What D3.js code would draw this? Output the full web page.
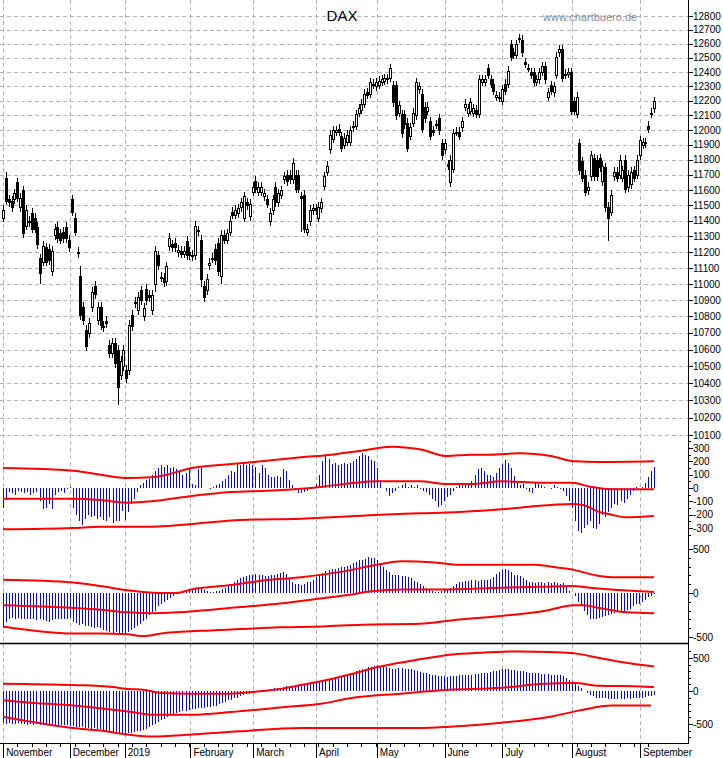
<!DOCTYPE html>
<html><head><meta charset="utf-8">
<script src="https://cdn.jsdelivr.net/npm/d3@7"></script>
<style>body{margin:0;background:#fff}svg{display:block;font-family:"Liberation Sans",Arial,sans-serif}</style>
</head><body><svg id="c" width="723" height="758"></svg>
<script>
const opens = [11420,11680,11540,11530,11540,11650,11490,11600,11370,11400,11450,11420,11360,11160,11140,11230,11220,11080,11310,11360,11320,11330,11360,11280,11540,11420,11200,11050,10860,10720,10700,10860,10990,10780,10860,10740,10770,10630,10580,10640,10600,10450,10500,10480,10480,10810,10890,10840,10960,10800,10970,10930,10840,11000,11180,11040,11040,11020,11240,11250,
11260,11200,11210,11190,11270,11200,11175,11180,11340,11280,10990,10960,11120,11160,11220,11260,11050,11310,11280,11330,11460,11440,11450,11490,11420,11520,11430,11590,11660,11590,11590,11560,11540,11400,11470,11620,11520,11570,11670,11700,11700,11670,11700,11700,11560,11570,11330,11400,11470,11480,11420,11480,11630,11720,11870,11940,11990,12010,11960,11900,11920,11920,
12020,12030,12120,12140,12180,12260,12250,12320,12300,12310,12330,12340,12350,12360,12310,12310,12120,12110,12110,12050,11960,12050,12100,12280,12250,12160,12130,12060,12000,12040,12080,11910,11870,11770,11650,11740,11990,11990,12020,12160,12120,12130,12120,12140,12110,12330,12330,12430,12350,12320,12230,12220,12200,12320,12320,
12600,12540,12520,12640,12630,12470,12430,12400,12400,12330,12350,12400,12440,12230,12310,12260,12380,12540,12560,12380,12390,12400,12200,12110,11910,11790,11700,11600,11690,11810,11800,11810,11660,11750,11490,11460,11690,11720,11700,11680,11800,11620,11640,11730,11700,11830,11900,11920,12030,12120,12150];
const closes = [11470,11530,11520,11490,11580,11550,11550,11320,11470,11390,11350,11350,11250,11070,11240,11140,11150,11210,11350,11290,11280,11290,11290,11230,11460,11330,11195,10810,10780,10620,10760,10950,10940,10860,10750,10735,10760,10580,10640,10520,10380,10530,10600,10430,10750,10740,10885,10920,10900,10850,10900,10920,10930,11210,11120,11045,11010,11110,11290,11230,
11230,11215,11190,11210,11180,11180,11185,11370,11335,11030,10920,11030,11130,11165,11150,11080,11310,11280,11320,11400,11440,11470,11480,11520,11560,11500,11510,11620,11610,11620,11620,11580,11510,11450,11540,11520,11580,11600,11690,11660,11670,11780,11610,11610,11550,11350,11350,11470,11480,11470,11490,11520,11690,11760,11970,12000,12000,11990,11880,11950,11970,12000,
12030,12110,12150,12180,12250,12240,12330,12310,12330,12340,12350,12360,12360,12430,12190,12100,12170,11980,12040,11880,12020,12120,12330,12300,12010,12080,12160,11960,11990,12040,12000,11830,11910,11760,11800,11980,11990,11960,12060,12180,12150,12190,12150,12110,12350,12350,12350,12380,12320,12270,12240,12230,12280,12270,12410,
12510,12520,12600,12635,12540,12460,12430,12380,12330,12350,12400,12440,12350,12260,12270,12300,12510,12560,12360,12390,12400,12130,12130,12230,11730,11680,11590,11620,11830,11690,11690,11750,11760,11490,11420,11570,11720,11680,11800,11730,11610,11700,11720,11680,11800,11930,11920,11910,12010,12110,12200];
const wickPad = 30;
const wickOverrides = {1:[11720,null],7:[null,11290],13:[null,11000],27:[11110,null],40:[null,10270],53:[null,10950],69:[null,10980],76:[null,11000],104:[null,11330],211:[null,11270]};

const months = ["November","December","2019","February","March","April","May","June","July","August","September"];
const monthPos = [0.4,23.6,42.8,65.7,87.6,109.5,130.7,154.3,174.5,198.8,222.5];
const priceTicks = d3.range(10100,12801,100);

const osc1 = [-150,-90,-30,-40,-50,-20,-30,-40,-30,-50,-40,-30,-100,-160,-150,-120,-160,-50,-30,-20,-40,-10,10,-150,-200,-250,-280,-230,-200,-220,-210,-230,-220,-240,-250,-220,-260,-250,-250,-170,-240,-180,-120,-80,-30,20,40,60,70,100,130,150,170,160,170,150,160,140,120,100,110,150,30,20,140,150,0,0,-10,10,20,30,50,70,100,130,120,180,170,180,170,180,170,160,110,170,150,100,80,80,90,80,140,130,60,20,-10,-40,-40,-30,-20,0,10,30,100,200,240,220,180,190,170,180,190,180,190,200,220,240,260,250,240,210,200,150,60,0,-20,-60,-40,-20,10,20,40,10,20,10,20,-10,-20,-30,-50,-80,-100,-140,-130,-100,-70,-50,-20,10,20,40,40,30,50,100,140,150,130,100,100,80,110,150,180,210,190,150,90,40,20,30,-10,-30,-40,40,30,20,10,0,-10,20,10,-10,-20,-60,-100,-150,-250,-320,-340,-300,-280,-250,-300,-310,-270,-200,-220,-180,-150,-120,-130,-100,-110,-80,-50,-20,10,0,10,40,80,130,160];
const osc2 = [-400,-330,-300,-280,-290,-280,-300,-300,-290,-300,-300,-310,-300,-310,-320,-330,-310,-300,-300,-290,-300,-290,-280,-330,-340,-360,-350,-370,-380,-390,-400,-390,-400,-420,-430,-440,-450,-440,-460,-450,-460,-440,-420,-400,-370,-350,-320,-300,-250,-220,-200,-150,-120,-100,-80,-60,-30,-10,0,10,20,20,30,50,70,50,30,20,10,10,20,20,40,60,80,100,130,150,170,180,190,200,200,220,210,200,190,190,200,210,220,230,240,220,160,120,100,100,90,100,120,130,150,180,200,230,250,260,270,270,280,290,300,310,320,340,350,370,380,390,410,400,400,370,340,300,260,240,210,200,200,190,190,180,170,140,120,100,80,60,30,20,10,10,20,30,40,60,80,100,120,130,140,140,150,150,140,150,150,150,160,180,220,240,260,270,260,240,210,200,190,170,150,130,120,110,120,120,110,120,110,120,110,100,110,80,20,0,-30,-100,-150,-200,-250,-290,-300,-290,-280,-270,-260,-250,-240,-230,-220,-210,-200,-190,-180,-150,-130,-120,-100,-80,-50,-30,-10];
const osc3 = [-480,-500,-490,-500,-500,-490,-500,-500,-510,-500,-510,-500,-510,-520,-520,-510,-520,-530,-520,-520,-510,-520,-530,-530,-540,-550,-540,-560,-560,-570,-560,-570,-580,-590,-600,-610,-620,-630,-640,-640,-650,-640,-630,-620,-610,-600,-590,-570,-550,-520,-500,-470,-440,-420,-400,-380,-360,-340,-320,-310,-300,-290,-280,-270,-260,-250,-250,-240,-240,-230,-220,-200,-180,-160,-140,-130,-110,-100,-80,-60,-50,-40,-30,-20,-10,0,10,20,30,40,50,50,60,70,80,70,80,80,90,100,100,110,120,130,150,160,170,180,190,200,210,230,240,250,270,280,300,320,330,340,360,370,380,390,380,370,360,350,340,340,350,350,340,340,330,320,300,290,280,270,260,250,240,230,220,220,210,220,230,230,240,240,250,250,250,260,260,270,270,280,290,300,310,320,330,330,330,320,320,310,300,300,290,280,280,270,270,260,260,260,250,250,250,240,230,200,170,150,100,80,40,0,-30,-60,-80,-100,-100,-110,-110,-120,-120,-120,-120,-120,-120,-110,-120,-110,-110,-100,-100,-90,-80,-70,-60];

const bandDays1 = [0,23,32,41,49,54,62,75,85,98,108,118,128,137,146,154,160,170,180,188,196,214];
const up1  = [150,130,100,75,80,100,150,180,200,230,250,280,310,290,240,250,250,260,240,200,195,200];
const midDays1 = [0,23,32,41,49,62,75,87,98,105,116,123,137,146,154,164,177,187,193,200,214];
const mid1 = [-80,-80,-90,-110,-100,-60,-30,-20,-5,10,40,50,50,30,30,50,40,40,10,-10,-10];
const lowDays1 = [0,23,32,41,49,62,78,98,108,124,137,150,164,173,187,191,196,200,205,214];
const low1 = [-310,-300,-290,-290,-290,-270,-240,-230,-220,-200,-190,-180,-160,-140,-120,-130,-180,-200,-220,-210];

const upDays2 = [0,23,32,41,51,57,62,75,85,98,111,123,131,141,150,164,175,182,188,195,200,214];
const up2 = [150,120,80,30,0,0,40,90,140,180,240,320,360,350,320,320,320,290,260,200,180,180];
const midDays2 = [0,23,32,41,49,57,65,78,91,105,114,121,131,144,164,177,187,193,200,210,214];
const mid2 = [-140,-170,-190,-220,-230,-220,-200,-160,-120,-60,-20,20,40,40,60,70,80,60,40,20,10];
const lowDays2 = [0,23,32,41,46,52,65,78,91,105,118,137,150,164,177,188,191,196,205,214];
const low2 = [-380,-460,-460,-470,-490,-460,-430,-410,-390,-380,-360,-350,-300,-260,-210,-140,-140,-170,-220,-230];

const upDays3 = [0,23,36,41,46,52,62,75,83,91,98,105,114,124,137,147,157,170,180,188,196,206,214];
const up3 = [110,90,60,30,20,-30,-40,-40,-10,30,90,150,250,370,480,550,580,600,590,570,500,420,370];
const midDays3 = [0,10,23,32,41,49,62,75,91,105,114,131,144,164,178,188,196,210,214];
const mid3 = [-140,-180,-220,-260,-310,-360,-360,-320,-250,-190,-110,-40,10,50,110,120,80,70,60];
const lowDays3 = [0,23,32,41,49,62,78,98,124,137,147,164,180,190,200,213];
const low3 = [-390,-560,-600,-660,-690,-660,-610,-560,-560,-560,-540,-480,-390,-290,-220,-220];

const svg = d3.select("#c");
const AX = 688, X0 = 1, X1 = 654;
const xC = d3.scaleLinear().domain([0, closes.length-1]).range([X0+2, X1]);
const xO = d3.scaleLinear().domain([0, 214]).range([X0+2, X1]);
const yP = d3.scaleLog().domain([10100,12800]).range([435,16]);
const y1 = d3.scaleLinear().domain([-300,300]).range([528,448]);
const y2 = d3.scaleLinear().domain([-500,500]).range([637,549]);
const y3 = d3.scaleLinear().domain([-500,500]).range([724,658]);

const grid = "#b4b4b4";
svg.append("g").selectAll("line").data(priceTicks).join("line")
  .attr("x1",0).attr("x2",AX).attr("y1",d=>Math.round(yP(d))+0.5).attr("y2",d=>Math.round(yP(d))+0.5)
  .attr("stroke",grid).attr("stroke-dasharray","4,3");
svg.append("g").selectAll("line").data(monthPos).join("line")
  .attr("x1",d=>Math.round(xC(d))-0.5).attr("x2",d=>Math.round(xC(d))-0.5).attr("y1",0).attr("y2",743)
  .attr("stroke",grid).attr("stroke-dasharray","4,3");

const cg = svg.append("g").attr("shape-rendering","crispEdges");
closes.forEach((c,i)=>{
  const o = opens[i], x = Math.round(xC(i));
  const ov = wickOverrides[i] || [null,null];
  const hi = ov[0] || Math.max(o,c)+wickPad, lo = ov[1] || Math.min(o,c)-wickPad;
  cg.append("line").attr("x1",x+0.5).attr("x2",x+0.5).attr("y1",Math.round(yP(hi))).attr("y2",Math.round(yP(lo))).attr("stroke","#000");
  const top = Math.round(yP(Math.max(o,c))), bot = Math.round(yP(Math.min(o,c)));
  cg.append("rect").attr("x",x-0.5).attr("y",top+0.5).attr("width",2).attr("height",Math.max(1,bot-top))
    .attr("fill",c>=o?"#fff":"#000").attr("stroke","#000").attr("stroke-width",1);
});

function hist(data, y){
  svg.append("g").attr("shape-rendering","crispEdges").selectAll("line").data(data).join("line")
    .attr("x1",(d,i)=>Math.round(xO(i))+0.5).attr("x2",(d,i)=>Math.round(xO(i))+0.5)
    .attr("y1",y(0)).attr("y2",d=>y(d)).attr("stroke","#0000ff").attr("stroke-width",1);
}
function band(days, vals, y){
  svg.append("path").datum(days.map((d,i)=>[d,vals[i]]))
    .attr("d", d3.line().x(d=>xO(d[0])).y(d=>y(d[1])).curve(d3.curveMonotoneX))
    .attr("fill","none").attr("stroke","#ff0000").attr("stroke-width",2);
}
hist(osc1,y1); band(bandDays1,up1,y1); band(midDays1,mid1,y1); band(lowDays1,low1,y1);
hist(osc2,y2); band(upDays2,up2,y2); band(midDays2,mid2,y2); band(lowDays2,low2,y2);
hist(osc3,y3); band(upDays3,up3,y3); band(midDays3,mid3,y3); band(lowDays3,low3,y3);

svg.append("line").attr("x1",0).attr("x2",AX).attr("y1",643.5).attr("y2",643.5).attr("stroke","#000").attr("stroke-width",1.5);
svg.append("line").attr("x1",AX+0.5).attr("x2",AX+0.5).attr("y1",0).attr("y2",744).attr("stroke","#000");
svg.append("line").attr("x1",0).attr("x2",AX).attr("y1",743.5).attr("y2",743.5).attr("stroke","#000");

const fs = "10px";
function rAxis(ticks, y, fmt, minor){
  const g = svg.append("g");
  if(minor) g.selectAll(".mn").data(minor).join("line").attr("x1",AX).attr("x2",AX+3)
    .attr("y1",d=>Math.round(y(d))+0.5).attr("y2",d=>Math.round(y(d))+0.5).attr("stroke","#000");
  g.selectAll(".mj").data(ticks).join("line").attr("x1",AX).attr("x2",AX+5)
    .attr("y1",d=>Math.round(y(d))+0.5).attr("y2",d=>Math.round(y(d))+0.5).attr("stroke","#000");
  g.selectAll("text").data(ticks).join("text").attr("x",AX+5).attr("y",d=>y(d)+3.5)
    .attr("font-size",fs).text(fmt);
}
rAxis(priceTicks, yP, d=>d);
rAxis([300,200,100,0,-100,-200,-300], y1, d=>d, d3.range(-350,351,50));
rAxis([500,0,-500], y2, d=>d, d3.range(-500,501,100));
rAxis([500,0,-500], y3, d=>d, d3.range(-700,701,100).filter(v=>y3(v)>645&&y3(v)<743));

svg.append("g").selectAll("line").data(d3.range(0,closes.length,5)).join("line")
  .attr("x1",d=>Math.round(xC(d))+0.5).attr("x2",d=>Math.round(xC(d))+0.5).attr("y1",743).attr("y2",747).attr("stroke","#000");
svg.append("g").selectAll("line").data(monthPos).join("line")
  .attr("x1",d=>Math.round(xC(d))-0.5).attr("x2",d=>Math.round(xC(d))-0.5).attr("y1",743).attr("y2",758).attr("stroke","#000");
svg.append("g").selectAll("text").data(months).join("text")
  .attr("x",(d,i)=>xC(monthPos[i])+2).attr("y",756).attr("font-size",fs).text(d=>d);

svg.append("text").attr("x",342).attr("y",21).attr("text-anchor","middle").attr("font-size","15px").text("DAX");
svg.append("text").attr("x",543).attr("y",21).attr("font-size","11px").attr("fill","#8c8c8c").text("www.chartbuero.de");
</script></body></html>
